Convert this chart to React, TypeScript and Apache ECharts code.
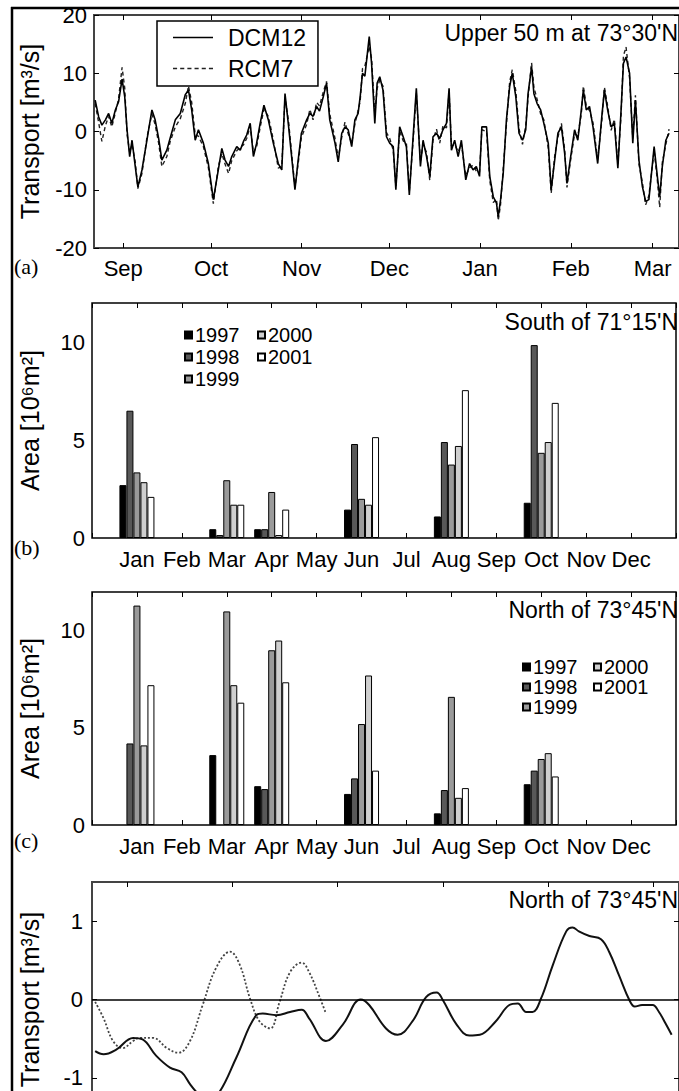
import React, { useEffect, useRef } from "react";
import * as echarts from "echarts";

// ---------- Panel (a): daily transport, upper 50 m at 73°30'N ----------
const DAYS_A = [
  -9.6, -8.4, -7.3, -6.1, -5.0, -3.9, -2.7, -1.6, -0.4, 0.5, 1.3, 2.2, 3.0, 4.1, 5.0, 6.4, 8.1, 9.8, 10.9, 12.1,
  13.2, 14.9, 16.0, 17.8, 19.5, 21.2, 22.3, 23.4, 24.6, 25.7, 27.4, 29.1, 30.8, 32.5, 33.7, 34.8, 36.0, 37.1, 38.8, 40.0,
  41.1, 42.2, 43.4, 44.5, 45.6, 46.8, 48.1, 49.6, 51.3, 53.0, 54.2, 55.3, 56.5, 58.7, 59.8, 60.9, 62.7, 63.8, 64.9, 66.1,
  67.1, 68.4, 69.5, 70.6, 72.4, 73.5, 74.7, 75.8, 76.9, 78.1, 79.2, 80.3, 81.0, 81.8, 82.6, 84.1, 84.9, 86.0, 86.8, 87.7,
  88.8, 90.0, 91.1, 92.3, 93.2, 94.5, 95.7, 96.8, 97.8, 99.1, 100.2, 101.6, 102.5, 103.7, 104.8, 105.9, 107.1, 108.2, 109.3, 110.5,
  111.4, 112.2, 113.3, 114.5, 115.6, 117.1, 118.4, 119.6, 120.7, 121.8, 122.6, 124.2, 125.3, 126.5, 127.6, 128.2, 129.0, 129.9, 131.0, 132.1,
  133.0, 134.2, 135.3, 136.5, 137.6, 138.4, 139.6, 140.4, 141.5, 142.7, 143.8, 145.3, 146.3, 147.5, 148.6, 149.8, 150.9, 151.7, 152.8, 154.3,
  155.4, 156.6, 157.3, 158.3, 159.4, 160.6, 162.2, 163.6, 164.5, 165.6, 166.8, 167.9, 169.1, 170.2, 171.0, 171.9, 173.1, 174.2, 175.1, 176.3,
  177.5, 178.6, 179.7, 181.5, 182.6, 183.4, 184.3, 185.5, 186.6,
];
const DCM12 = [
  5.4, 2.5, 1.1, 2.0, 3.1, 1.4, 3.7, 5.1, 9.0, 6.0, 0.3, -4.3, -1.5, -6.0, -9.5, -6.6, -1.5, 3.7, 2.0, -1.2,
  -4.9, -3.2, -1.2, 2.0, 3.1, 6.3, 7.1, 3.7, -1.5, 0.3, -2.0, -5.5, -11.7, -6.6, -2.9, -4.9, -6.0, -4.3, -2.6, -3.2,
  -1.7, -0.6, 1.4, -4.3, -2.0, 1.4, 4.5, 2.0, -2.0, -5.5, -6.6, 6.5, 1.0, -10.0, -4.9, -0.3, 2.0, 3.1, 2.6, 4.3,
  3.5, 6.0, 8.3, 2.0, -2.0, -5.2, -0.3, 0.8, 0.3, -2.6, 2.0, 3.1, 6.0, 10.0, 9.5, 16.3, 11.7, 1.4, 8.3, 9.4,
  7.1, -0.9, -2.0, -2.6, -10.0, 0.8, -0.9, -2.6, -10.9, -0.9, 7.4, -6.0, -1.5, -4.3, -7.7, -0.9, -0.3, -1.2, 0.3, 1.4,
  7.4, -3.2, -1.5, -4.3, -1.5, -8.3, -5.5, -6.6, -6.0, -7.7, 0.8, 0.8, -7.7, -11.2, -12.3, -14.6, -11.7, -7.2, 2.0, 7.7,
  10.0, 6.0, -0.3, -1.5, 0.3, 6.5, 11.1, 6.5, 4.8, 3.7, 1.4, -2.0, -10.0, -4.9, -0.3, 0.8, -3.7, -8.9, -4.9, 0.3,
  -1.5, 3.7, 7.1, 3.7, 4.3, 0.8, -5.5, 2.5, 7.1, 3.7, 0.8, 1.4, -6.3, 3.7, 11.7, 12.8, 10.0, -2.0, 5.4, -4.9,
  -9.5, -12.0, -11.7, -2.6, -7.7, -11.2, -6.0, -1.5, -0.3,
];
const RCM7 = [
  4.8, 1.5, -1.7, 1.0, 2.6, 0.8, 3.2, 5.6, 11.0, 7.5, -0.5, -3.6, -2.2, -5.2, -9.8, -7.2, -1.0, 3.0, 1.2, -2.0,
  -6.0, -4.3, -1.8, 0.8, 2.2, 4.8, 7.8, 5.0, -0.6, -0.8, -2.6, -6.2, -12.4, -6.0, -3.8, -5.6, -7.2, -5.0, -3.3, -2.7,
  -2.3, -1.2, 0.9, -3.6, -2.6, 0.7, 3.8, 2.6, -1.4, -6.3, -6.0, 5.8, 1.8, -9.6, -5.5, -1.0, 1.2, 3.8, 2.0, 5.0,
  4.4, 6.8, 8.6, 3.0, -1.2, -4.6, -1.0, 1.6, -0.4, -2.0, 1.3, 3.6, 5.2, 10.8, 11.2, 14.6, 12.5, 3.0, 7.4, 8.8,
  7.8, -0.2, -1.2, -3.2, -9.4, 0.1, -1.6, -2.0, -10.3, -1.6, 6.6, -5.2, -2.2, -3.6, -8.4, -1.5, 0.4, -2.0, 1.0, 0.6,
  6.8, -2.5, -2.2, -3.5, -2.1, -7.6, -6.2, -5.8, -6.8, -7.0, 0.3, 0.0, -8.4, -12.2, -11.6, -15.3, -12.5, -6.4, 1.2, 8.5,
  10.6, 7.0, 0.5, -2.2, 1.0, 5.8, 11.8, 7.6, 5.5, 3.0, 2.0, -2.8, -10.6, -4.2, -1.0, 1.4, -3.0, -9.6, -5.4, -0.4,
  -0.8, 3.0, 7.8, 4.4, 3.6, 1.5, -4.8, 1.8, 7.6, 4.4, 0.2, 2.1, -5.6, 2.9, 13.0, 14.5, 9.2, -1.2, 6.2, -5.6,
  -8.8, -12.6, -11.0, -3.3, -8.4, -13.0, -5.3, -2.2, 0.4,
];
const MONTH_DAYS_A = [0, 30, 61, 91, 122, 153, 181];
const MONTH_NAMES_A = ["Sep", "Oct", "Nov", "Dec", "Jan", "Feb", "Mar"];

// ---------- Panels (b) and (c): monthly areas ----------
const MONTHS = ["Jan", "Feb", "Mar", "Apr", "May", "Jun", "Jul", "Aug", "Sep", "Oct", "Nov", "Dec"];
const YEARS = ["1997", "1998", "1999", "2000", "2001"];
const YEAR_COLORS = ["#000000", "#585858", "#9a9a9a", "#cfcfcf", "#ffffff"];

const SOUTH_1997 = [2.7, null, 0.45, 0.45, null, 1.45, null, 1.1, null, 1.8, null, null];
const SOUTH_1998 = [6.5, null, 0.15, 0.45, null, 4.8, null, 4.9, null, 9.85, null, null];
const SOUTH_1999 = [3.35, null, 2.95, 2.35, null, 2.0, null, 3.75, null, 4.35, null, null];
const SOUTH_2000 = [2.85, null, 1.7, 0.15, null, 1.7, null, 4.7, null, 4.9, null, null];
const SOUTH_2001 = [2.1, null, 1.7, 1.45, null, 5.15, null, 7.55, null, 6.9, null, null];

const NORTH_1997 = [null, null, 3.6, 2.0, null, 1.6, null, 0.6, null, 2.1, null, null];
const NORTH_1998 = [4.2, null, null, 1.85, null, 2.4, null, 1.8, null, 2.8, null, null];
const NORTH_1999 = [11.3, null, 11.0, 9.0, null, 5.2, null, 6.6, null, 3.4, null, null];
const NORTH_2000 = [4.1, null, 7.2, 9.5, null, 7.7, null, 1.4, null, 3.7, null, null];
const NORTH_2001 = [7.2, null, 6.3, 7.35, null, 2.8, null, 1.9, null, 2.5, null, null];
const AREA_TICKS = [0, 5, 10];

// ---------- Panel (d): smoothed transport north of 73°45'N ----------
const D_SOLID_X = [
  -0.30, -0.22, -0.10, 0.06, 0.15, 0.28, 0.41, 0.52, 0.60, 0.66, 0.76, 0.88, 1.04, 1.23, 1.29, 1.42, 1.55, 1.66, 1.73, 1.89,
  2.05, 2.22, 2.30, 2.46, 2.57, 2.71, 2.84, 2.94, 3.00, 3.13, 3.25, 3.35, 3.50, 3.63, 3.71, 3.79, 3.85, 3.93, 4.04, 4.17,
  4.23, 4.29, 4.39, 4.50, 4.58, 4.67, 4.77, 4.82, 4.89, 4.99, 5.05, 5.11, 5.17,
];
const D_SOLID_Y = [
  -0.66, -0.70, -0.64, -0.49, -0.51, -0.72, -0.87, -0.93, -1.08, -1.18, -1.32, -1.18, -0.74, -0.20, -0.18, -0.20, -0.16, -0.13, -0.24, -0.53,
  -0.32, 0.0, -0.07, -0.37, -0.45, -0.28, 0.03, 0.09, -0.01, -0.32, -0.46, -0.45, -0.28, -0.07, -0.05, -0.16, -0.16, 0.01, 0.43, 0.87,
  0.92, 0.87, 0.81, 0.77, 0.60, 0.31, -0.01, -0.09, -0.07, -0.07, -0.16, -0.30, -0.45,
];
const D_DASH_X = [
  -0.30, -0.22, -0.13, -0.04, 0.06, 0.12, 0.25, 0.38, 0.49, 0.60, 0.72, 0.85, 0.98, 1.07, 1.17, 1.26, 1.36, 1.45, 1.55, 1.66,
  1.73, 1.83, 1.89,
];
const D_DASH_Y = [
  -0.03, -0.24, -0.53, -0.62, -0.53, -0.49, -0.49, -0.62, -0.68, -0.53, -0.07, 0.41, 0.61, 0.45, 0.01, -0.28, -0.37, -0.03, 0.35, 0.47,
  0.35, 0.03, -0.18,
];
const D_XTICKS = [0, 1, 2, 3, 4, 5];
const D_YTICKS = [-1, 0, 1];

const FONT = "'Liberation Sans', Arial, Helvetica, sans-serif";
const SERIF = "'Liberation Serif', 'Times New Roman', serif";

const SOLID_ICON = "path://M0 0H40V1.6H0Z";
const DASH_ICON =
  "path://M0 0H4V1.4H0Z M7 0H11V1.4H7Z M14 0H18V1.4H14Z M21 0H25V1.4H21Z M28 0H32V1.4H28Z M35 0H39V1.4H35Z";

const zip = (xs: number[], ys: number[]) => xs.map((x, i) => [x, ys[i]]);
const pad = (arr: (number | null)[]) => [null, ...arr, null];
const CATS = ["", ...MONTHS, ""];

export default function App() {
  const ref = useRef<HTMLDivElement>(null);

  useEffect(() => {
    if (!ref.current) return;
    const chart = echarts.init(ref.current, null, { renderer: "svg" });

    const tick = { inside: true, length: 5, lineStyle: { color: "#000", width: 1 } };
    const noLine = { show: false, onZero: false };
    const lbl = { fontSize: 22, color: "#000", fontFamily: FONT };
    const nameStyle = { fontSize: 25, color: "#000", fontFamily: FONT };

    const catX = (grid: number, pos: "top" | "bottom") => ({
      gridIndex: grid,
      type: "category",
      data: CATS,
      boundaryGap: false,
      position: pos,
      axisLine: noLine,
      splitLine: { show: false },
      axisTick: { ...tick, interval: 0 },
      axisLabel: pos === "bottom" ? { ...lbl, interval: 0, margin: 10 } : { show: false },
    });
    const areaY = (grid: number, pos: "left" | "right") => ({
      gridIndex: grid,
      type: "value",
      min: 0,
      max: 12,
      position: pos,
      axisLine: noLine,
      splitLine: { show: false },
      axisTick: { ...tick, customValues: AREA_TICKS },
      axisLabel: pos === "left" ? { ...lbl, margin: 7, customValues: AREA_TICKS } : { show: false },
      ...(pos === "left"
        ? { name: "Area [10⁶m²]", nameLocation: "middle", nameGap: 50, nameTextStyle: nameStyle }
        : {}),
    });

    const barSeries = (axis: number, arrays: (number | null)[][]) =>
      arrays.map((arr, i) => ({
        type: "bar",
        name: YEARS[i],
        xAxisIndex: axis,
        yAxisIndex: axis,
        data: pad(arr),
        barWidth: 7,
        barGap: "0%",
        itemStyle: { color: YEAR_COLORS[i], borderColor: "#000", borderWidth: 1 },
      }));

    const yearLegend = (data: string[], left: number, top: number, gap: number) => ({
      data,
      left,
      top,
      orient: "vertical",
      icon: "rect",
      itemWidth: 7,
      itemHeight: 7,
      itemGap: gap,
      padding: 0,
      selectedMode: false,
      textStyle: { fontSize: 20, color: "#000", fontFamily: FONT, padding: [0, 0, 0, -2] },
    });

    const titleText = (text: string, y: number) => ({
      type: "text",
      x: 678,
      y,
      style: { text, fontSize: 23, fontFamily: FONT, fill: "#000", align: "right", verticalAlign: "middle" },
    });
    const letter = (text: string, y: number) => ({
      type: "text",
      x: 14,
      y,
      style: { text, fontSize: 22, fontFamily: SERIF, fill: "#000", align: "left", verticalAlign: "middle" },
    });

    const option: any = {
      animation: false,
      backgroundColor: "#fff",
      textStyle: { fontFamily: FONT },
      grid: [
        { left: 94, top: 15, width: 586, height: 233, show: true, borderColor: "#444", borderWidth: 2 },
        { left: 92, top: 303, width: 588, height: 235, show: true, borderColor: "#000", borderWidth: 1.5 },
        { left: 92, top: 592, width: 588, height: 233, show: true, borderColor: "#000", borderWidth: 1.5 },
        { left: 92, top: 882, width: 588, height: 235, show: true, borderColor: "#444", borderWidth: 2 },
      ],
      xAxis: [
        {
          gridIndex: 0,
          type: "value",
          min: -10,
          max: 190,
          position: "bottom",
          axisLine: noLine,
          splitLine: { show: false },
          axisTick: { ...tick, customValues: MONTH_DAYS_A },
          axisLabel: {
            ...lbl,
            margin: 9,
            customValues: MONTH_DAYS_A,
            formatter: (v: number) => {
              const i = MONTH_DAYS_A.indexOf(v);
              return i >= 0 ? MONTH_NAMES_A[i] : "";
            },
          },
        },
        {
          gridIndex: 0,
          type: "value",
          min: -10,
          max: 190,
          position: "top",
          axisLine: noLine,
          splitLine: { show: false },
          axisTick: { ...tick, customValues: MONTH_DAYS_A },
          axisLabel: { show: false },
        },
        catX(1, "bottom"),
        catX(1, "top"),
        catX(2, "bottom"),
        catX(2, "top"),
        {
          gridIndex: 3,
          type: "value",
          min: -0.33,
          max: 5.24,
          position: "top",
          axisLine: noLine,
          splitLine: { show: false },
          axisTick: { ...tick, customValues: D_XTICKS },
          axisLabel: { show: false },
        },
      ],
      yAxis: [
        {
          gridIndex: 0,
          type: "value",
          min: -20,
          max: 20,
          interval: 10,
          position: "left",
          axisLine: noLine,
          splitLine: { show: false },
          axisTick: tick,
          axisLabel: { ...lbl, margin: 7 },
          name: "Transport [m³/s]",
          nameLocation: "middle",
          nameGap: 52,
          nameTextStyle: nameStyle,
        },
        {
          gridIndex: 0,
          type: "value",
          min: -20,
          max: 20,
          interval: 10,
          position: "right",
          axisLine: noLine,
          splitLine: { show: false },
          axisTick: tick,
          axisLabel: { show: false },
        },
        areaY(1, "left"),
        areaY(1, "right"),
        areaY(2, "left"),
        areaY(2, "right"),
        {
          gridIndex: 3,
          type: "value",
          min: -1.5,
          max: 1.5,
          position: "left",
          axisLine: noLine,
          splitLine: { show: false },
          axisTick: { ...tick, customValues: D_YTICKS },
          axisLabel: { ...lbl, margin: 9, customValues: D_YTICKS },
          name: "Transport [m³/s]",
          nameLocation: "middle",
          nameGap: 50,
          nameTextStyle: nameStyle,
        },
        {
          gridIndex: 3,
          type: "value",
          min: -1.5,
          max: 1.5,
          position: "right",
          axisLine: noLine,
          splitLine: { show: false },
          axisTick: { ...tick, customValues: D_YTICKS },
          axisLabel: { show: false },
        },
      ],
      legend: [
        {
          data: [
            { name: "DCM12", icon: SOLID_ICON },
            { name: "RCM7", icon: DASH_ICON },
          ],
          left: 157,
          top: 21,
          orient: "vertical",
          backgroundColor: "#fff",
          borderColor: "#000",
          borderWidth: 1.5,
          borderRadius: 0,
          padding: [5, 12, 6, 16],
          itemWidth: 40,
          itemHeight: 1.6,
          itemGap: 8,
          selectedMode: false,
          textStyle: { fontSize: 23, color: "#000", fontFamily: FONT, padding: [0, 0, 0, 10] },
        },
        yearLegend(["1997", "1998", "1999"], 184, 325, 2),
        yearLegend(["2000", "2001"], 257, 325, 2),
        yearLegend(["1997", "1998", "1999"], 522, 657, 0),
        yearLegend(["2000", "2001"], 593, 657, 0),
      ],
      series: [
        {
          type: "line",
          name: "DCM12",
          xAxisIndex: 0,
          yAxisIndex: 0,
          data: zip(DAYS_A, DCM12),
          symbol: "none",
          showSymbol: false,
          z: 3,
          lineStyle: { color: "#000", width: 1.6 },
          itemStyle: { color: "#000" },
        },
        {
          type: "line",
          name: "RCM7",
          xAxisIndex: 0,
          yAxisIndex: 0,
          data: zip(DAYS_A, RCM7),
          symbol: "none",
          showSymbol: false,
          z: 2,
          lineStyle: { color: "#222", width: 1.4, type: [4, 3] },
          itemStyle: { color: "#222" },
        },
        ...barSeries(2, [SOUTH_1997, SOUTH_1998, SOUTH_1999, SOUTH_2000, SOUTH_2001]),
        ...barSeries(4, [NORTH_1997, NORTH_1998, NORTH_1999, NORTH_2000, NORTH_2001]),
        {
          type: "line",
          name: "solid d",
          xAxisIndex: 6,
          yAxisIndex: 6,
          data: zip(D_SOLID_X, D_SOLID_Y),
          symbol: "none",
          showSymbol: false,
          smooth: 0.4,
          z: 3,
          lineStyle: { color: "#111", width: 2 },
          markLine: {
            silent: true,
            symbol: ["none", "none"],
            label: { show: false },
            lineStyle: { color: "#000", width: 1.5, type: "solid" },
            data: [{ yAxis: 0 }],
          },
        },
        {
          type: "line",
          name: "dashed d",
          xAxisIndex: 6,
          yAxisIndex: 6,
          data: zip(D_DASH_X, D_DASH_Y),
          symbol: "none",
          showSymbol: false,
          smooth: 0.4,
          z: 2,
          lineStyle: { color: "#444", width: 1.8, type: [2, 2] },
        },
      ],
      graphic: [
        { type: "line", shape: { x1: 12, y1: 7, x2: 12, y2: 1140 }, style: { stroke: "#000", lineWidth: 2.5 } },
        { type: "line", shape: { x1: 11, y1: 8, x2: 679, y2: 8 }, style: { stroke: "#000", lineWidth: 2.5 } },
        titleText("Upper 50 m at 73°30'N", 33),
        titleText("South of 71°15'N", 322),
        titleText("North of 73°45'N", 610),
        titleText("North of 73°45'N", 900),
        letter("(a)", 266),
        letter("(b)", 547),
        letter("(c)", 840),
      ],
    };

    chart.setOption(option);
    return () => chart.dispose();
  }, []);

  return (
    <div
      style={{
        position: "absolute",
        left: 0,
        top: 0,
        width: 679,
        height: 1091,
        overflow: "hidden",
        background: "#fff",
      }}
    >
      <div ref={ref} style={{ width: 679, height: 1140 }} />
    </div>
  );
}
